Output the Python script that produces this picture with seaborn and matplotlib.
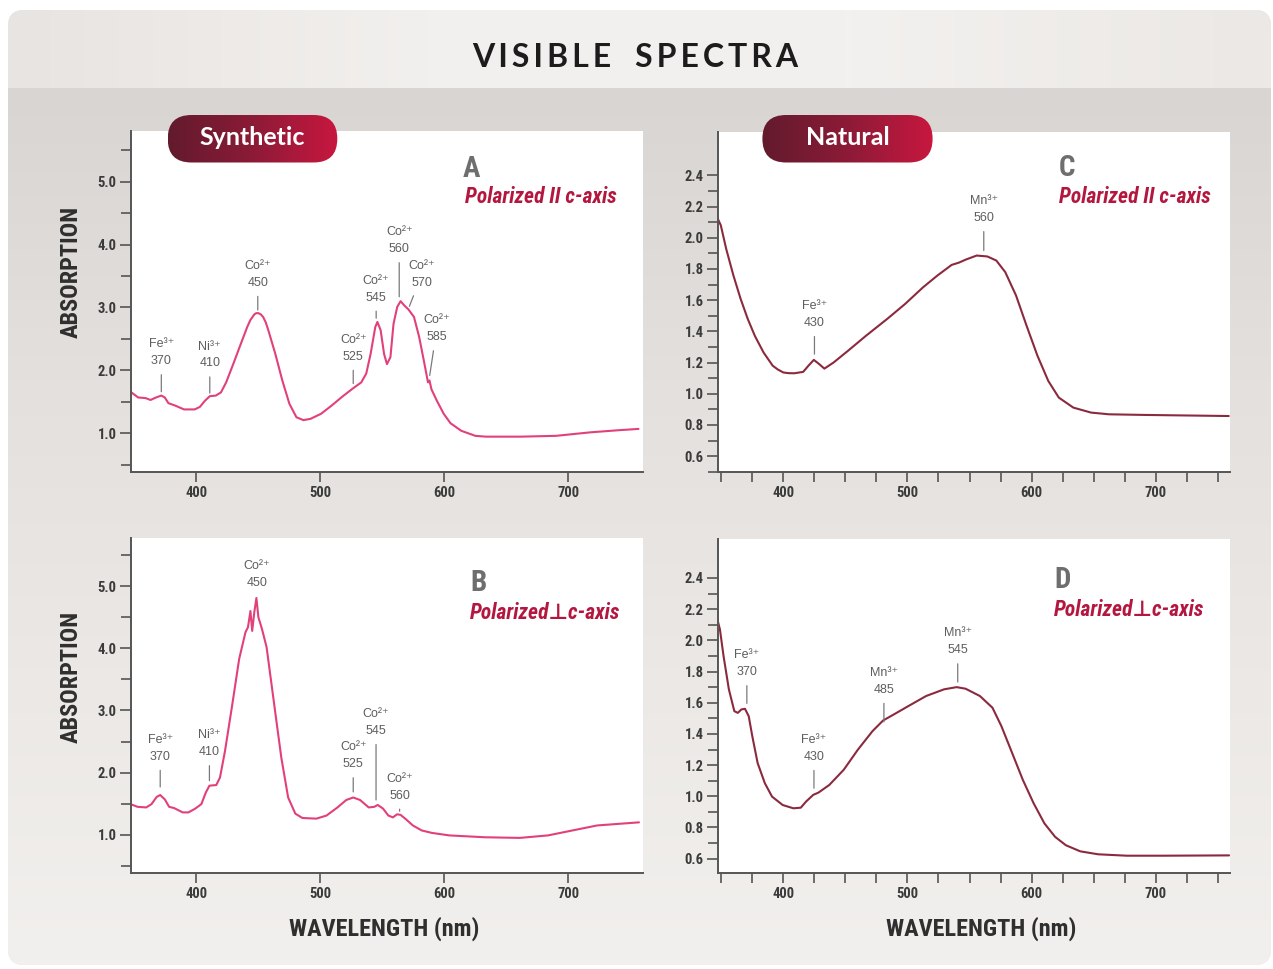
import numpy as np
import pandas as pd
import seaborn as sns
import matplotlib
matplotlib.use("Agg")
import matplotlib.pyplot as plt
from matplotlib.patches import FancyBboxPatch
from matplotlib.colors import LinearSegmentedColormap
from matplotlib import font_manager as fm
from matplotlib.ticker import FixedLocator, FormatStrFormatter

# ---------------- data ----------------
wl_A = [347.6, 353, 359, 363, 367.5, 371.7, 374.5, 377.4, 383, 390, 398.6, 402.8, 407, 410.8,
        415.6, 419.8, 424, 429.7, 435.4, 441, 443.5, 446.7, 448.3, 450, 452, 453.8, 456, 458,
        463.7, 469.3, 475, 480.7, 486.3, 492, 500.5, 509, 517.5, 526, 533, 537, 540.5, 544.3,
        546, 548.6, 551.4, 553.7, 556.5, 559, 562, 564.7, 567.8, 571, 575.5, 579.7, 584, 586.8,
        588, 589.6, 593.9, 599.5, 605, 613.7, 625, 633.5, 661.8, 690, 718, 741, 756.6]
abs_A = [1.65, 1.57, 1.56, 1.53, 1.57, 1.60, 1.57, 1.48, 1.44, 1.38, 1.38, 1.42, 1.52, 1.59,
         1.60, 1.65, 1.81, 2.10, 2.40, 2.69, 2.80, 2.89, 2.91, 2.91, 2.89, 2.85, 2.76, 2.64,
         2.26, 1.84, 1.47, 1.255, 1.21, 1.23, 1.31, 1.44, 1.58, 1.71, 1.81, 1.95, 2.26, 2.69,
         2.77, 2.64, 2.26, 2.10, 2.21, 2.74, 3.01, 3.10, 3.03, 2.97, 2.85, 2.53, 2.10, 1.81,
         1.84, 1.70, 1.52, 1.31, 1.16, 1.04, 0.96, 0.947, 0.947, 0.96, 1.016, 1.05, 1.07]

wl_B = [346.8, 352.5, 359.5, 363.8, 368, 370.8, 374.5, 378, 382, 389, 393.5, 399, 404, 407.6,
        410.5, 416, 419, 423, 428.9, 434.5, 439.6, 441.6, 443.6, 445, 446.7, 448.4, 450, 452.9,
        456.6, 460, 464.2, 468.5, 474, 479.8, 485.5, 496.8, 505, 513.8, 520.9, 526.5, 532, 539,
        543.5, 546.3, 550.6, 554.8, 558.5, 561.9, 564.7, 569, 574.6, 581.7, 590, 604, 632.7,
        661, 683.6, 703.4, 723.2, 740, 757]
abs_B = [1.494, 1.45, 1.44, 1.494, 1.61, 1.64, 1.57, 1.45, 1.43, 1.36, 1.36, 1.42, 1.494, 1.68,
         1.79, 1.80, 1.92, 2.34, 3.09, 3.83, 4.26, 4.34, 4.60, 4.28, 4.58, 4.81, 4.50, 4.31,
         4.02, 3.51, 2.88, 2.24, 1.60, 1.34, 1.27, 1.26, 1.31, 1.44, 1.56, 1.60, 1.56, 1.44,
         1.45, 1.48, 1.42, 1.31, 1.28, 1.33, 1.32, 1.25, 1.15, 1.07, 1.03, 0.99, 0.96,
         0.95, 0.99, 1.07, 1.15, 1.175, 1.20]

wl_C = [346.6, 349.5, 353.8, 359.6, 365.4, 371.2, 377, 384, 391.3, 395.5, 400, 404, 408.7,
        415.9, 420.2, 424.5, 428.8, 433, 440.4, 452, 466.3, 483.7, 498, 512.5, 524, 535.6,
        541.3, 547, 555.8, 564.4, 571.6, 578.8, 587.5, 596, 604.8, 613.5, 622, 633.7, 648,
        662.5, 691, 720, 759]
abs_C = [2.13, 2.08, 1.93, 1.76, 1.61, 1.48, 1.37, 1.264, 1.18, 1.155, 1.136, 1.132, 1.131,
         1.14, 1.18, 1.217, 1.19, 1.161, 1.20, 1.275, 1.37, 1.48, 1.575, 1.682, 1.757, 1.826,
         1.84, 1.86, 1.886, 1.88, 1.854, 1.78, 1.63, 1.436, 1.243, 1.082, 0.975, 0.911, 0.879,
         0.868, 0.864, 0.861, 0.857]

wl_D = [346.5, 348.8, 351.7, 356, 360.4, 363.2, 366.1, 369, 372, 374.9, 379.2, 385, 390.8,
        399.4, 408, 414, 418.2, 424, 428.3, 437, 448.6, 460, 471.7, 480.3, 489, 500.6, 515,
        529.5, 539.6, 546.8, 558.4, 568.5, 575.7, 584.4, 593, 601.7, 610.4, 619, 627.7, 639.3,
        653.7, 676.8, 705.7, 759.3]
abs_D = [2.142, 2.07, 1.90, 1.686, 1.546, 1.535, 1.557, 1.561, 1.514, 1.385, 1.213, 1.084,
         0.998, 0.944, 0.923, 0.927, 0.966, 1.009, 1.024, 1.073, 1.17, 1.299, 1.417, 1.486,
         1.525, 1.578, 1.643, 1.686, 1.70, 1.69, 1.643, 1.568, 1.45, 1.277, 1.105, 0.955,
         0.826, 0.74, 0.686, 0.647, 0.628, 0.619, 0.619, 0.621]

# annotations: ion, wavelength label
ions_A = ["Fe³⁺", "Ni³⁺", "Co²⁺", "Co²⁺", "Co²⁺", "Co²⁺", "Co²⁺", "Co²⁺"]
nm_A = ["370", "410", "450", "525", "545", "560", "570", "585"]
ions_B = ["Fe³⁺", "Ni³⁺", "Co²⁺", "Co²⁺", "Co²⁺", "Co²⁺"]
nm_B = ["370", "410", "450", "525", "545", "560"]
ions_C = ["Fe³⁺", "Mn³⁺"]
nm_C = ["430", "560"]
ions_D = ["Fe³⁺", "Fe³⁺", "Mn³⁺", "Mn³⁺"]
nm_D = ["370", "430", "485", "545"]

xticks_nm = [400, 500, 600, 700]
panel_letters = ["A", "B", "C", "D"]
pol_par = "Polarized II c-axis"
pol_perp = "Polarized\u22a5c-axis"
badges = ["Synthetic", "Natural"]
title = "VISIBLE SPECTRA"
ylab = "ABSORPTION"
xlab = "WAVELENGTH (nm)"

# ---------------- layout / style ----------------
ann_pos_A = [(371.7, 2.28, 371.7, 1.66), (410.8, 2.245, 410.8, 1.64), (449.5, 3.525, 449.5, 2.96),
             (526.5, 2.35, 526.5, 1.79), (545.0, 3.29, 545.0, 2.83), (563.6, 4.06, 563.6, 3.17),
             (582.0, 3.53, 571.8, 3.02), (593.9, 2.66, 588.2, 1.92)]
ann_pos_B = [(370.8, 2.39, 370.8, 1.77), (410.5, 2.465, 410.5, 1.87), (448.7, 5.185, None, None),
             (526.5, 2.27, 526.5, 1.69), (544.9, 2.805, 544.9, 1.56), (563.9, 1.765, 563.9, 1.38)]
ann_pos_C = [(425.0, 1.5075, 425.0, 1.254), (561.5, 2.18, 561.5, 1.918)]
ann_pos_D = [(370.5, 1.85, 370.5, 1.596), (424.6, 1.3065, 424.6, 1.052),
             (481.0, 1.7365, 481.0, 1.477), (540.5, 1.99, 540.5, 1.733)]

sns.set_style("white")
names = {f.name for f in fm.fontManager.ttflist}
COND = "Liberation Sans"
for n in ["Roboto Condensed", "Liberation Sans Narrow", "Archivo Narrow", "Barlow Semi Condensed"]:
    if n in names:
        COND = n
        break
REG = "Liberation Sans" if "Liberation Sans" in names else "DejaVu Sans"
TFONT = "Lato" if "Lato" in names else "DejaVu Sans"
plt.rcParams["font.family"] = [COND, "DejaVu Sans"]

W, H = 1273, 969
fig = plt.figure(figsize=(W / 100, H / 100), dpi=100, facecolor="white")


def rect(x0, y0, x1, y1):
    return [x0 / W, 1 - y1 / H, (x1 - x0) / W, (y1 - y0) / H]


# background card
bg = fig.add_axes([0, 0, 1, 1], zorder=-5)
bg.axis("off")
card = FancyBboxPatch((8, 10), 1263, 955, boxstyle="round,pad=0,rounding_size=16",
                      fc="#e6e2df", ec="none", zorder=1)
bg.add_patch(card)
body_cmap = LinearSegmentedColormap.from_list("body", ["#d9d5d2", "#e4e0dd", "#ebe8e5", "#f2f0ee"])
body = bg.imshow(np.linspace(0, 1, 256).reshape(-1, 1), cmap=body_cmap,
                 extent=(8, 1271, 965, 88), aspect="auto", interpolation="bilinear", zorder=2)
body.set_clip_path(card)
band_cmap = LinearSegmentedColormap.from_list("band", ["#e8e4e1", "#f2f0ee", "#f3f1ef", "#ebe8e5"])
band = bg.imshow(np.linspace(0, 1, 256).reshape(1, -1), cmap=band_cmap,
                 extent=(8, 1271, 88, 10), aspect="auto", interpolation="bilinear", zorder=2)
band.set_clip_path(card)
bg.set_xlim(0, W)
bg.set_ylim(H, 0)

PINK = "#e2407b"
MAROON = "#8b2a3f"
CRIMSON = "#b3173f"
TICKC = "#3b3b3b"
SPINE = "#555555"

panels = [
    dict(key="A", rect=(130.7, 130.7, 642.7, 471.7), wl=wl_A, ab=abs_A, color=PINK,
         ylim=(0.39, 5.81), ymaj=[1.0, 2.0, 3.0, 4.0, 5.0], ymin=[0.5, 1.5, 2.5, 3.5, 4.5, 5.5],
         xmin=[], ions=ions_A, nms=nm_A, ann=ann_pos_A, pol=pol_par,
         let_xy=(0.649, 0.887), pol_xy=(0.652, 0.806)),
    dict(key="B", rect=(130.7, 538.3, 642.7, 872.7), wl=wl_B, ab=abs_B, color=PINK,
         ylim=(0.39, 5.77), ymaj=[1.0, 2.0, 3.0, 4.0, 5.0], ymin=[0.5, 1.5, 2.5, 3.5, 4.5, 5.5],
         xmin=[], ions=ions_B, nms=nm_B, ann=ann_pos_B, pol=pol_perp,
         let_xy=(0.663, 0.867), pol_xy=(0.663, 0.778)),
    dict(key="C", rect=(717.7, 131.7, 1230, 471.7), wl=wl_C, ab=abs_C, color=MAROON,
         ylim=(0.50, 2.68), ymaj=list(np.round(np.arange(0.6, 2.41, 0.2), 1)),
         ymin=list(np.round(np.arange(0.5, 2.31, 0.2), 1)),
         xmin=list(range(350, 751, 25)), ions=ions_C, nms=nm_C, ann=ann_pos_C, pol=pol_par,
         let_xy=(0.666, 0.892), pol_xy=(0.666, 0.807)),
    dict(key="D", rect=(717.7, 539, 1230, 872.7), wl=wl_D, ab=abs_D, color=MAROON,
         ylim=(0.51, 2.65), ymaj=list(np.round(np.arange(0.6, 2.41, 0.2), 1)),
         ymin=list(np.round(np.arange(0.5, 2.31, 0.2), 1)),
         xmin=list(range(350, 751, 25)), ions=ions_D, nms=nm_D, ann=ann_pos_D, pol=pol_perp,
         let_xy=(0.657, 0.878), pol_xy=(0.657, 0.788)),
]

for p in panels:
    ax = fig.add_axes(rect(*p["rect"]), zorder=1)
    ax.set_facecolor("white")
    df = pd.DataFrame({"wl": p["wl"], "abs": p["ab"]})
    sns.lineplot(data=df, x="wl", y="abs", ax=ax, color=p["color"], lw=1.5,
                 estimator=None, sort=False, solid_joinstyle="round")
    ax.set_xlim(347, 760)
    ax.set_ylim(*p["ylim"])
    ax.set_xlabel("")
    ax.set_ylabel("")
    for s in ["top", "right"]:
        ax.spines[s].set_visible(False)
    for s in ["left", "bottom"]:
        ax.spines[s].set_color(SPINE)
        ax.spines[s].set_linewidth(1.4)
    ax.xaxis.set_major_locator(FixedLocator(xticks_nm))
    ax.xaxis.set_minor_locator(FixedLocator(p["xmin"]))
    ax.yaxis.set_major_locator(FixedLocator(p["ymaj"]))
    ax.yaxis.set_minor_locator(FixedLocator(p["ymin"]))
    ax.yaxis.set_major_formatter(FormatStrFormatter("%.1f"))
    ax.tick_params(axis="both", which="both", direction="out", color=SPINE, width=1.2,
                   left=True, bottom=True)
    ax.tick_params(axis="y", which="major", length=8, pad=2)
    ax.tick_params(axis="y", which="minor", length=7)
    ax.tick_params(axis="x", which="both", length=7, pad=3)
    for lab in ax.get_xticklabels() + ax.get_yticklabels():
        lab.set_fontsize(10.5)
        lab.set_fontweight("bold")
        lab.set_color(TICKC)
    ax.grid(False)

    for ion, nm, (tx, ty, px, py) in zip(p["ions"], p["nms"], p["ann"]):
        label = f"{ion}\n{nm}"
        if px is None:
            ax.text(tx, ty, label, ha="center", va="center", fontsize=9, color="#5e5e5e",
                    family=[REG, "DejaVu Sans"], linespacing=1.55)
        else:
            ax.annotate(label, xy=(px, py), xytext=(tx, ty), ha="center", va="center",
                        fontsize=9, color="#5e5e5e", family=[REG, "DejaVu Sans"],
                        linespacing=1.55,
                        arrowprops=dict(arrowstyle="-", color="#7a7a7a", lw=0.9,
                                        shrinkA=3, shrinkB=0))

    ax.text(*p["let_xy"], p["key"], transform=ax.transAxes, ha="left", va="center",
            fontsize=21, fontweight="bold", color="#6e6e6e")
    ax.text(*p["pol_xy"], p["pol"], transform=ax.transAxes, ha="left", va="center",
            fontsize=15.5, fontweight="bold", style="italic", color=CRIMSON)

for yc in [271.5, 677]:
    fig.text(71 / W, 1 - yc / H, ylab, rotation=90, ha="center", va="center", fontsize=17.5,
             fontweight="bold", color="#2f2f2f")
for xc in [384, 981]:
    fig.text(xc / W, 1 - 929 / H, xlab, ha="center", va="center", fontsize=17.5,
             fontweight="bold", color="#2f2f2f")

# overlay: title and badges
ov = fig.add_axes([0, 0, 1, 1], zorder=10)
ov.axis("off")
ov.patch.set_alpha(0)
spaced = "\u2009".join(title.replace(" ", "\u2002"))
ov.text(635, 57, spaced, ha="center", va="center", fontsize=23, fontweight="bold",
        color="#1c1c1c", family=[TFONT, "DejaVu Sans"])
badge_cmap = LinearSegmentedColormap.from_list("badge", ["#621a2d", "#8c1b37", "#c8173f"])
for text, (x0, x1) in zip(badges, [(167.7, 337.3), (762.4, 932.6)]):
    y0, y1 = 115, 162.5
    pill = FancyBboxPatch((x0, y0), x1 - x0, y1 - y0,
                          boxstyle=f"round,pad=0,rounding_size={(y1 - y0) / 2}",
                          fc="none", ec="none", zorder=1)
    ov.add_patch(pill)
    grad = ov.imshow(np.linspace(0, 1, 256).reshape(1, -1), cmap=badge_cmap,
                     extent=(x0, x1, y1, y0), aspect="auto", interpolation="bilinear", zorder=2)
    grad.set_clip_path(pill)
    ov.text((x0 + x1) / 2, (y0 + y1) / 2 - 1, text, ha="center", va="center", fontsize=18,
            fontweight="bold", color="white", family=[TFONT, "DejaVu Sans"], zorder=3)
ov.set_xlim(0, W)
ov.set_ylim(H, 0)

fig.savefig("out.png", dpi=100, facecolor="white")
